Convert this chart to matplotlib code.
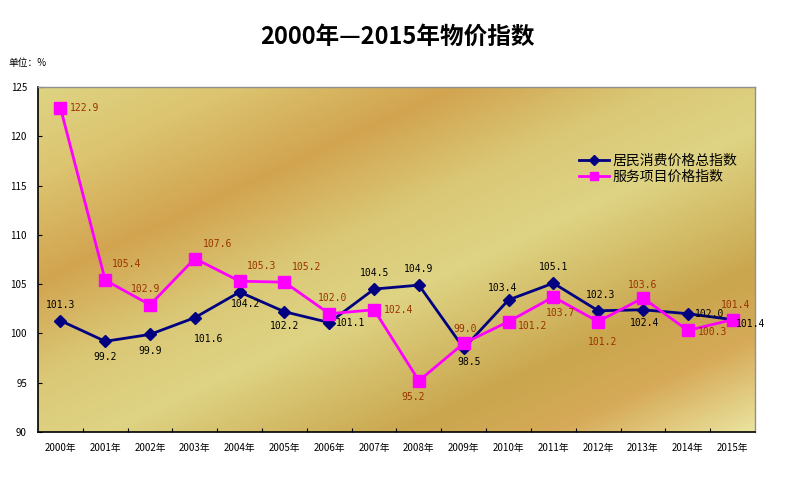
import numpy as np
import matplotlib
matplotlib.use("Agg")
import matplotlib.pyplot as plt

plt.rcParams['font.family'] = ['Noto Sans CJK SC', 'DejaVu Sans']

years = [f"{y}年" for y in range(2000, 2016)]
cpi = [101.3, 99.2, 99.9, 101.6, 104.2, 102.2, 101.1, 104.5, 104.9, 98.5,
       103.4, 105.1, 102.3, 102.4, 102.0, 101.4]
service = [122.9, 105.4, 102.9, 107.6, 105.3, 105.2, 102.0, 102.4, 95.2, 99.0,
           101.2, 103.7, 101.2, 103.6, 100.3, 101.4]
series_names = ["居民消费价格总指数", "服务项目价格指数"]
yticks = [90, 95, 100, 105, 110, 115, 120, 125]

# label offsets (points): (dx, dy, ha, va)
cpi_off = [(0, 8, 'center', 'bottom'), (0, -8, 'center', 'top'), (0, -8, 'center', 'top'),
           (10, -12, 'center', 'top'), (4, -5, 'center', 'top'), (0, -7, 'center', 'top'),
           (5, 0, 'left', 'center'), (0, 8, 'center', 'bottom'), (0, 8, 'center', 'bottom'),
           (4, -6, 'center', 'top'), (-4, 5, 'center', 'bottom'), (0, 8, 'center', 'bottom'),
           (2, 8, 'center', 'bottom'), (1, -6, 'center', 'top'), (5, 0, 'left', 'center'),
           (2, -3, 'left', 'center')]
svc_off = [(7, 0, 'left', 'center'), (5, 8, 'left', 'bottom'), (-3, 8, 'center', 'bottom'),
           (6, 7, 'left', 'bottom'), (5, 7, 'left', 'bottom'), (5, 7, 'left', 'bottom'),
           (2, 8, 'center', 'bottom'), (7, 0, 'left', 'center'), (-4, -8, 'center', 'top'),
           (1, 7, 'center', 'bottom'), (7, -3, 'left', 'center'), (5, -8, 'center', 'top'),
           (3, -11, 'center', 'top'), (0, 6, 'center', 'bottom'), (7, -1, 'left', 'center'),
           (2, 7, 'center', 'bottom')]

W, H = 794, 488
fig = plt.figure(figsize=(W / 100, H / 100), dpi=100)
fig.patch.set_facecolor('white')
L, R, T, B = 38, 755, 87, 432
ax = fig.add_axes([L / W, 1 - B / H, (R - L) / W, (B - T) / H])

# background gradient (diagonal bands)
xs = np.linspace(L, R, 360)
ys = np.linspace(T, B, 180)
X, Y = np.meshgrid(xs, ys)
S = X + 2.14 * Y
stops_s = [224, 420, 640, 850, 1030, 1330, 1480, 1680]
stops_c = [(222, 212, 130), (220, 196, 112), (210, 164, 80), (218, 200, 118),
           (222, 212, 132), (202, 166, 78), (214, 170, 88), (234, 228, 160)]
img = np.zeros(S.shape + (3,))
for k in range(3):
    img[..., k] = np.interp(S, stops_s, [c[k] for c in stops_c]) / 255.0
ax.imshow(img, extent=[-0.5, 15.5, 90, 125], aspect='auto', origin='upper', zorder=0)

x = np.arange(len(years))
ax.plot(x, cpi, color='#000080', lw=2, marker='D', ms=6.5, mfc='#000080', mec='#000080',
        zorder=3, label=series_names[0])
ax.plot(x, service, color='#ff00ff', lw=2, marker='s', ms=8, mfc='#ff00ff', mec='#ff00ff',
        zorder=4, label=series_names[1])

for i, v in enumerate(cpi):
    dx, dy, ha, va = cpi_off[i]
    ax.annotate(f"{v:.1f}", (x[i], v), xytext=(dx, dy), textcoords='offset points',
                ha=ha, va=va, fontsize=7, color='black', family='DejaVu Sans Mono', zorder=5)
for i, v in enumerate(service):
    dx, dy, ha, va = svc_off[i]
    ax.annotate(f"{v:.1f}", (x[i], v), xytext=(dx, dy), textcoords='offset points',
                ha=ha, va=va, fontsize=7, color='#993300', family='DejaVu Sans Mono', zorder=5)

ax.set_xlim(-0.5, 15.5)
ax.set_ylim(90, 125)
ax.set_yticks(yticks)
ax.set_yticklabels([str(t) for t in yticks], fontsize=7)
ax.tick_params(axis='y', direction='in', length=3, pad=8)
ax.set_xticks(np.arange(0.5, 15.5, 1.0))
ax.set_xticklabels([])
ax.tick_params(axis='x', which='major', direction='in', length=3)
ax.set_xticks(x, minor=True)
ax.set_xticklabels(years, minor=True, fontsize=7)
ax.tick_params(axis='x', which='minor', length=0, pad=8)

for s in ['left', 'bottom']:
    ax.spines[s].set_color('black')
    ax.spines[s].set_linewidth(1.2)
for s in ['top', 'right']:
    ax.spines[s].set_color('#909090')
    ax.spines[s].set_linewidth(1)

leg = ax.legend(loc='upper left', bbox_to_anchor=((572 - L) / (R - L), 1 - (147 - T) / (B - T)),
                frameon=False, fontsize=10, handlelength=2.2, handletextpad=0.2,
                labelspacing=0.15, borderpad=0, markerscale=0.8)

fig.text(397 / W, 1 - 37 / H, "2000年—2015年物价指数", ha='center', va='center',
         fontsize=17, fontweight='bold')
fig.text(8 / W, 1 - 63 / H, "单位：%", ha='left', va='center', fontsize=7)

fig.savefig("out.png", dpi=100)
